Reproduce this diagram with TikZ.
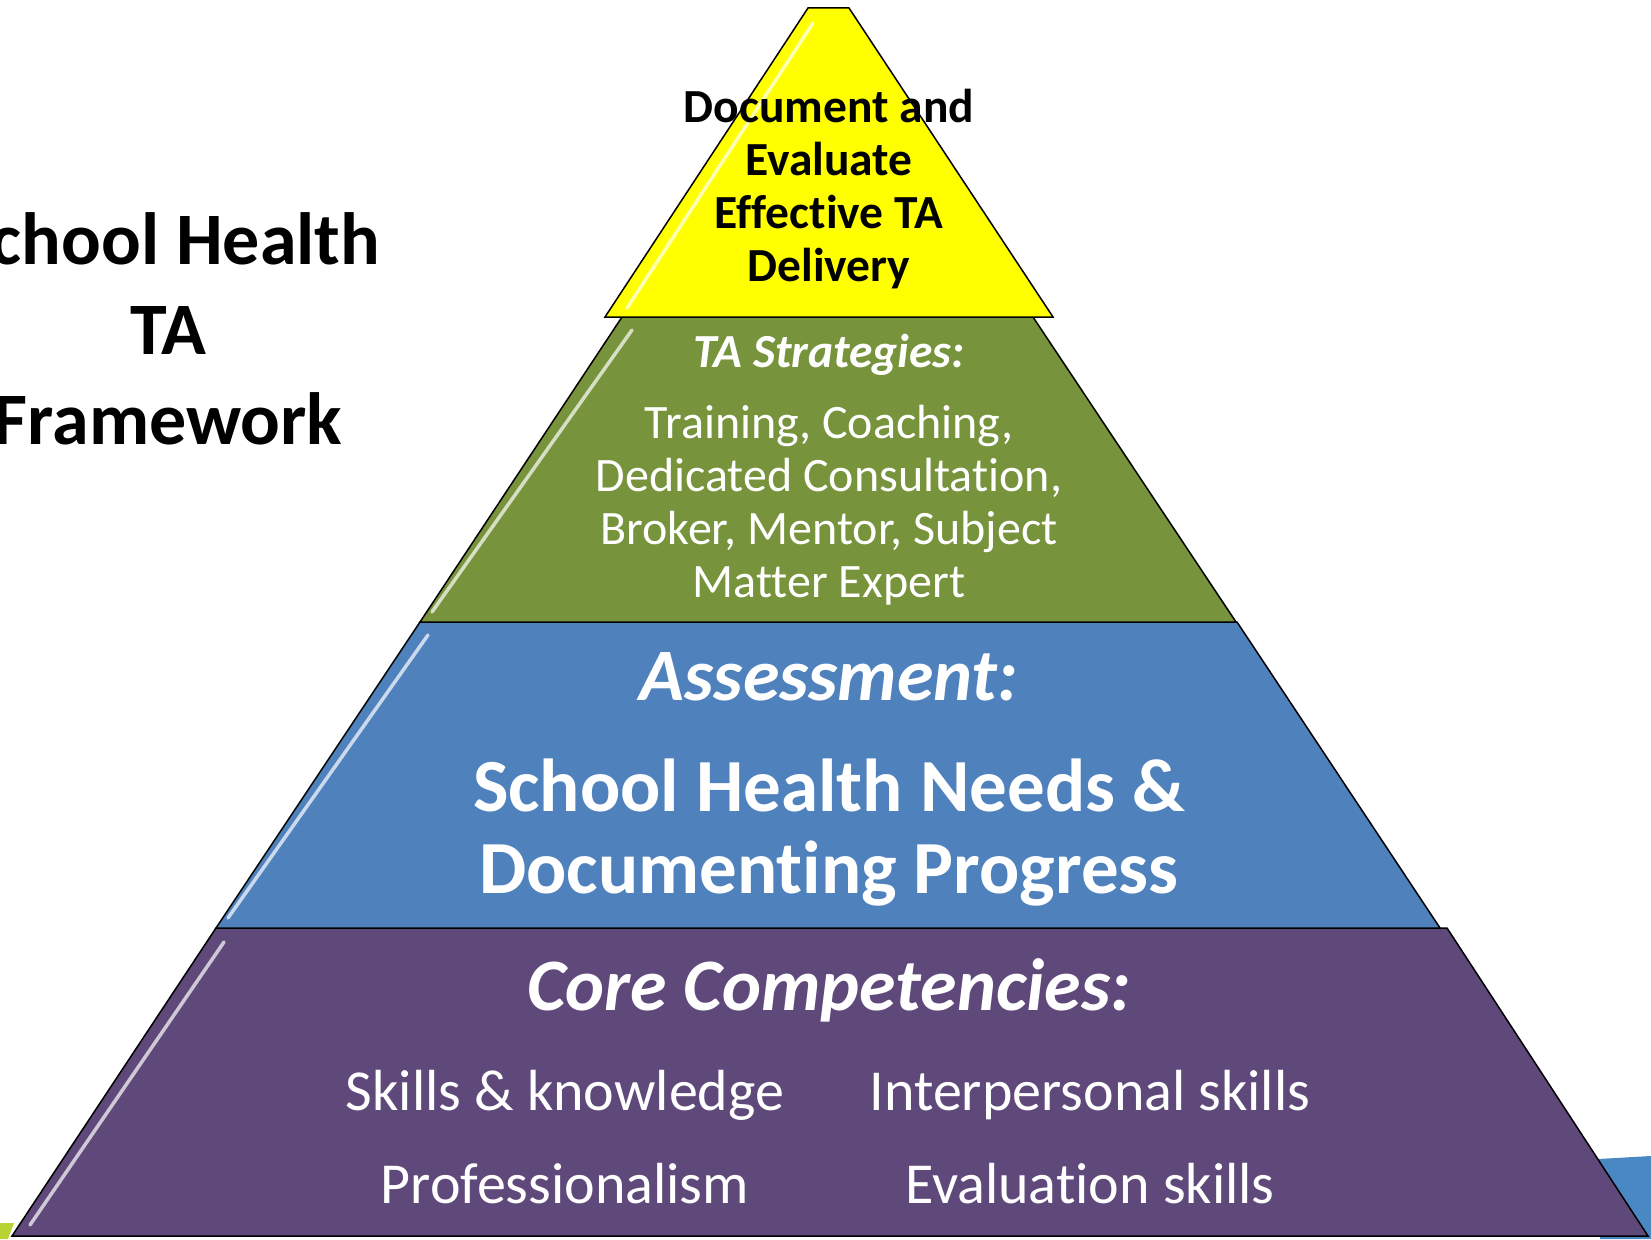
\documentclass[tikz,border=0pt]{standalone}
\usepackage{fontspec}
\setmainfont{Carlito}[Ligatures={NoCommon,NoRare}]
\definecolor{pyrYellow}{HTML}{FFFF00}
\definecolor{pyrGreen}{HTML}{77933C}
\definecolor{pyrBlue}{HTML}{4F81BD}
\definecolor{pyrPurple}{HTML}{5F497A}
\definecolor{slideBlue}{HTML}{4A88C4}
\definecolor{slideLime}{HTML}{B7D433}
\begin{document}
\begin{tikzpicture}[x=1pt,y=-1pt,
        layer/.style={draw=black,line width=1.5pt,line join=miter},
        gloss/.style={white,opacity=0.7,line width=3.5pt,line cap=round},
        tier/.style={align=center,inner sep=0pt,text=white},
        heading/.style={tier,font=\bfseries\itshape}]
        \useasboundingbox (0,0) rectangle (1651,1239);
        % slide decoration behind the pyramid
        \fill[slideBlue] (1598,1159) -- (1651,1156) -- (1651,1239) -- (1600,1239) -- cycle;
        \fill[slideLime] (0,1223) -- (14,1223) -- (8,1239) -- (0,1239) -- cycle;
        % pyramid layers, bottom to top
        \filldraw[layer,fill=pyrPurple] (216,928) -- (1447,928) -- (1648,1236) -- (12,1236) -- cycle;
        \draw[gloss] (224,942) -- (30,1225);
        \filldraw[layer,fill=pyrBlue] (420,622) -- (1237,622) -- (1440,928) -- (216,928) -- cycle;
        \draw[gloss] (428,635) -- (228,918);
        \filldraw[layer,fill=pyrGreen] (622,317) -- (1033,317) -- (1236,622) -- (420,622) -- cycle;
        \draw[gloss] (632,330) -- (432,612);
        \filldraw[layer,fill=pyrYellow] (808,8) -- (849,8) -- (1053,317) -- (605,317) -- cycle;
        \draw[gloss] (813,23) -- (627,308);
        % texts
        \node[align=center,inner sep=0pt,font=\fontsize{74}{90}\selectfont\bfseries] (title) at (168,329) {School Health\\TA\\Framework};
        \node[align=center,inner sep=0pt,font=\fontsize{47.5}{53}\selectfont\bfseries] (evaluate) at (829,189) {Document and\\Evaluate\\Effective TA\\Delivery};
        \node[heading,font=\fontsize{47.5}{53}\selectfont\bfseries\itshape] (strategies) at (829,355) {TA Strategies:};
        \node[tier,font=\fontsize{48}{53}\selectfont] (strategylist) at (829,505) {Training, Coaching,\\Dedicated Consultation,\\Broker, Mentor, Subject\\Matter Expert};
        \node[heading,font=\fontsize{74}{80}\selectfont\bfseries\itshape] (assessment) at (829,677) {Assessment:};
        \node[tier,font=\fontsize{75}{82}\selectfont\bfseries] (needs) at (829,833) {School Health Needs \&\\Documenting Progress};
        \node[heading,font=\fontsize{74}{80}\selectfont\bfseries\itshape] (core) at (829,990) {Core Competencies:};
        \node[tier,font=\fontsize{58}{62}\selectfont] (skills) at (565,1095) {Skills \& knowledge};
        \node[tier,font=\fontsize{58}{62}\selectfont] (interpersonal) at (1090,1095) {Interpersonal skills};
        \node[tier,font=\fontsize{58}{62}\selectfont] (professionalism) at (565,1184) {Professionalism};
        \node[tier,font=\fontsize{58}{62}\selectfont] (evaluation) at (1090,1184) {Evaluation skills};
\end{tikzpicture}
\end{document}
